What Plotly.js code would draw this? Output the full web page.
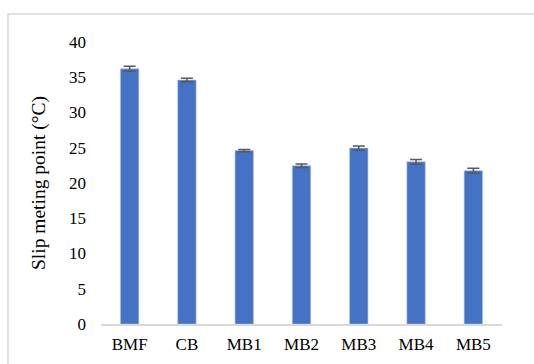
<!DOCTYPE html>
<html>
<head>
<meta charset="utf-8">
<script src="https://cdn.plot.ly/plotly-3.0.1.min.js"></script>
<style>html,body{margin:0;padding:0;background:#fff;}#chart{width:534px;height:364px;}</style>
</head>
<body>
<div id="chart"></div>
<script>
const categories = ["BMF", "CB", "MB1", "MB2", "MB3", "MB4", "MB5"];
const slipMeltingPoint = [36.2, 34.6, 24.6, 22.45, 24.95, 23.0, 21.75];
const errorValues = [0.35, 0.25, 0.15, 0.25, 0.3, 0.35, 0.35];
const yTicks = [0, 5, 10, 15, 20, 25, 30, 35, 40];

const serif = "Liberation Serif";

const trace = {
  type: "bar",
  x: categories,
  y: slipMeltingPoint,
  marker: {color: "#4472c4", line: {color: "#a8bde6", width: 0.6}},
  error_y: {type: "data", array: errorValues, visible: true, color: "#595959", thickness: 1.5, width: 6},
  hoverinfo: "none"
};

const layout = {
  width: 534, height: 364,
  margin: {l: 101, r: 32, t: 42, b: 40},
  paper_bgcolor: "#ffffff", plot_bgcolor: "#ffffff",
  showlegend: false,
  bargap: 0.68,
  font: {family: serif, color: "#000000"},
  xaxis: {
    type: "category",
    showgrid: false, zeroline: false,
    showline: true, linecolor: "#d9d9d9", linewidth: 1.5,
    ticks: "", tickfont: {size: 17, family: serif, color: "#000"},
    ticklabelstandoff: 4
  },
  yaxis: {
    range: [0, 40], tickvals: yTicks, ticktext: yTicks.map(String),
    showgrid: false, zeroline: false, showline: false, ticks: "",
    tickfont: {size: 17, family: serif, color: "#000"},
    ticklabelstandoff: 14,
    title: {text: "Slip meting point (°C)", font: {size: 19.5, family: serif, color: "#000"}, standoff: 18}
  },
  shapes: [{
    type: "rect", xref: "paper", yref: "paper",
    x0: -0.232, x1: 1.2, y0: -0.3, y1: 1.099,
    line: {color: "#d9d9d9", width: 1.5}, fillcolor: "rgba(0,0,0,0)", layer: "below"
  }]
};

Plotly.newPlot("chart", [trace], layout, {staticPlot: true, displayModeBar: false});
</script>
</body>
</html>
